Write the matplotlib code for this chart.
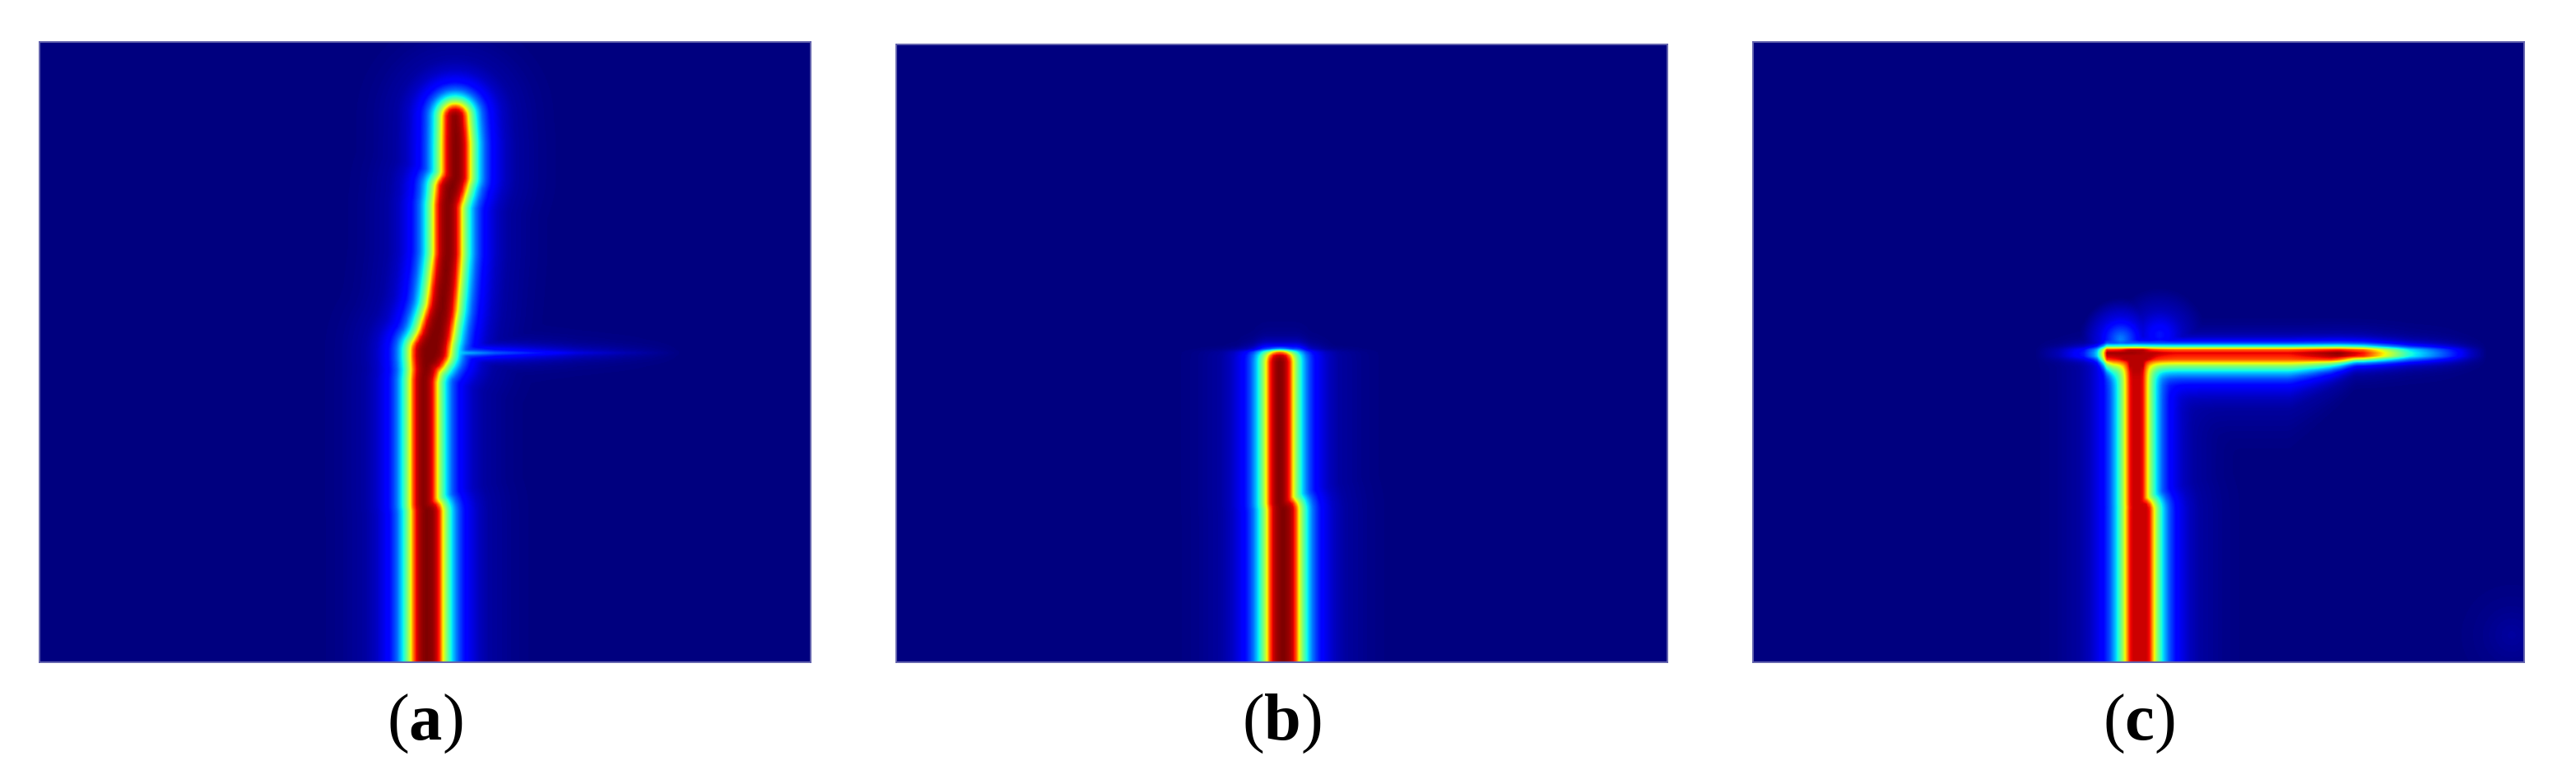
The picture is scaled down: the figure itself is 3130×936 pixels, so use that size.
# Damage field maps for three crack cases, panels (a), (b), (c)
import numpy as np
import matplotlib
matplotlib.use("Agg")
import matplotlib.pyplot as plt

plt.rcParams["font.family"] = ["Liberation Serif", "DejaVu Serif"]
plt.rcParams["mathtext.fontset"] = "custom"
plt.rcParams["mathtext.rm"] = "Liberation Serif"
plt.rcParams["mathtext.bf"] = "Liberation Serif:bold"

labels = ["(a)", "(b)", "(c)"]

# Damage level against distance from the crack edge
profile_dist = [-14, -8, -3, 0, 3, 5, 9, 14, 22, 31, 46, 60, 90, 120]
profile_level = [1.0, 0.98, 0.93, 0.87, 0.72, 0.62, 0.5, 0.37, 0.22, 0.125, 0.06, 0.03, 0.01, 0.0]

# Fall-off above the interface where a crack is arrested
cut_dy = [-35, -25, -14, -8, -5, -3, -1, 2]
cut_factor = [0.0, 0.01, 0.05, 0.12, 0.25, 0.55, 0.85, 1.0]

# Vertical crack centre lines: x, y, half width
crack_a_x = [517, 517, 513, 513, 515, 516, 519, 521, 527, 535, 537, 542, 542, 546, 552, 552, 551]
crack_a_y = [810, 620, 612, 460, 448, 440, 432, 425, 407, 373, 357, 307, 247, 227, 213, 173, 140]
crack_a_w = [15, 15, 12, 12, 13, 14.5, 18, 20, 17, 14.5, 14, 13, 13, 15, 13, 13, 11.5]

crack_b_x = [1557, 1557, 1553, 1553]
crack_b_y = [810, 618, 610, 438]
crack_b_w = [15, 15, 12, 12]

crack_c_x = [2598, 2598, 2594, 2594]
crack_c_y = [810, 618, 610, 428]
crack_c_w = [13, 13, 9, 9]

# Thin horizontal bands: x knots and peak level along them
band_a_y = 427
band_a_x = [462, 480, 495, 557, 600, 650, 700, 760, 830]
band_a_peak = [0.0, 0.12, 0.35, 0.38, 0.25, 0.17, 0.1, 0.05, 0.0]

band_b_y = 425
band_b_x = [1495, 1520, 1535, 1575, 1590, 1620]
band_b_peak = [0.0, 0.12, 0.35, 0.35, 0.12, 0.0]

band_c_y = 428
band_c_x = [2470, 2500, 2530, 2545, 2553, 2558, 2590, 2640, 2780, 2840, 2870, 2895, 2925, 2970, 3000, 3020]
band_c_peak = [0.0, 0.05, 0.15, 0.3, 0.6, 0.98, 0.98, 0.92, 0.92, 1.0, 0.9, 0.66, 0.4, 0.2, 0.06, 0.0]
# Below the branch the band is much wider than above it
band_c_low_x = [2545, 2565, 2780, 2830, 2860]
band_c_low_scale = [0.35, 1.0, 1.0, 0.6, 0.35]
band_c_low_w = [5, 8, 8, 7, 5]

# Faint glows: x, y, level, radius
glow_c_x = [2575, 2622, 3050]
glow_c_y = [410, 405, 770]
glow_c_level = [0.26, 0.15, 0.03]
glow_c_r = [50, 58, 75]

mesh_step = 4  # the field looks sampled on a mesh of about 4 px


def crack_distance(X, Y, xs, ys, ws):
    # distance to the crack edge, negative inside it
    best = np.full(X.shape, 1e9)
    for i in range(len(xs) - 1):
        dx, dy = xs[i + 1] - xs[i], ys[i + 1] - ys[i]
        t = ((X - xs[i]) * dx + (Y - ys[i]) * dy) / (dx * dx + dy * dy)
        t = np.clip(t, 0, 1)
        d = np.hypot(X - xs[i] - t * dx, Y - ys[i] - t * dy)
        best = np.minimum(best, d - (ws[i] + t * (ws[i + 1] - ws[i])))
    return best


def level(d):
    return np.interp(d, profile_dist, profile_level)


def band_field(X, Y, y0, xs, peak, up_scale, up_w, low_scale, low_w):
    d = Y - y0
    d_eff = np.where(d < 0, (-d - up_w) / up_scale, (d - low_w) / low_scale)
    return np.interp(X, xs, peak) * level(d_eff)


def make_grid(box):
    x = np.arange(box[0], box[1] + mesh_step, mesh_step)
    y = np.arange(box[3], box[2] + mesh_step, mesh_step)
    return np.meshgrid(x, y)


def panel_a(box):
    X, Y = make_grid(box)
    Z = level(crack_distance(X, Y, crack_a_x, crack_a_y, crack_a_w))
    return np.maximum(Z, band_field(X, Y, band_a_y, band_a_x, band_a_peak, 0.5, 0, 0.5, 0))


def panel_b(box):
    X, Y = make_grid(box)
    Z = level(crack_distance(X, Y, crack_b_x, crack_b_y, crack_b_w))
    Z = Z * np.interp(Y - 426, cut_dy, cut_factor)
    return np.maximum(Z, band_field(X, Y, band_b_y, band_b_x, band_b_peak, 0.4, 0, 0.4, 0))


def panel_c(box):
    X, Y = make_grid(box)
    Z = np.minimum(level(crack_distance(X, Y, crack_c_x, crack_c_y, crack_c_w)), 0.93)
    Z = Z * np.interp(Y - 424, cut_dy, cut_factor)
    low_s = np.interp(X, band_c_low_x, band_c_low_scale)
    low_w = np.interp(X, band_c_low_x, band_c_low_w)
    B = band_field(X, Y, band_c_y, band_c_x, band_c_peak, 0.35, 5, low_s, low_w)
    # rounded corner where the branch leaves the vertical crack
    top = np.maximum(Z, B)
    soft = np.minimum((Z ** 3 + B ** 3) ** (1 / 3), top + 0.15)
    Z = np.minimum(soft, np.maximum(top, 0.95))
    for gx, gy, gl, gr in zip(glow_c_x, glow_c_y, glow_c_level, glow_c_r):
        r = np.hypot(X - gx, Y - gy) / gr
        Z = np.maximum(Z, gl * np.interp(r, [0, 0.5, 1], [1, 0.35, 0]))
    return Z


# Panel boxes in reference pixels: left, right, bottom, top
boxes = [(48, 985, 805, 51), (1089, 2026, 805, 54), (2130, 3067, 805, 51)]
makers = [panel_a, panel_b, panel_c]
W, H = 3130, 936

fig = plt.figure(figsize=(W / 100, H / 100), dpi=100, facecolor="white")

for box, make, label in zip(boxes, makers, labels):
    left, right, bottom, top = box
    ax = fig.add_axes([left / W, 1 - bottom / H, (right - left) / W, (bottom - top) / H])
    Z = make(box)
    ax.imshow(Z, cmap="jet", vmin=0, vmax=1, aspect="auto", interpolation="bilinear",
              extent=(left, left + (Z.shape[1]) * mesh_step, top + (Z.shape[0]) * mesh_step, top))
    ax.set_xlim(left, right)
    ax.set_ylim(bottom, top)
    ax.set_xticks([])
    ax.set_yticks([])
    for s in ax.spines.values():
        s.set_color("#6464ae")
        s.set_linewidth(1.4)
    letter = label[1]
    fig.text((left + right) / 2 / W, 1 - 880 / H, "($\\mathbf{%s}$)" % letter,
             fontsize=58, ha="center", va="center", color="black")

fig.savefig("out.png", dpi=100, facecolor="white")
